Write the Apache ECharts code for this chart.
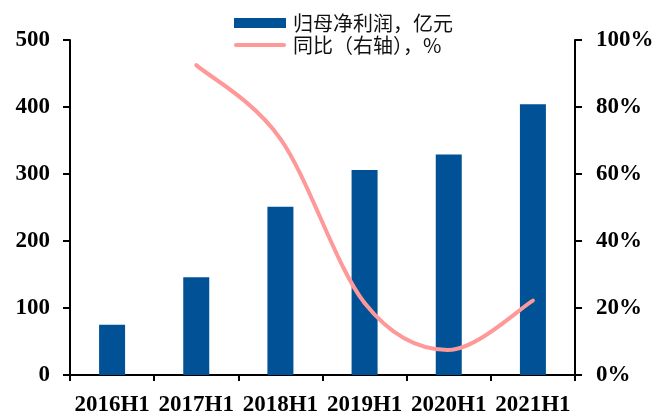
<!DOCTYPE html>
<html>
<head>
<meta charset="utf-8">
<script src="https://cdn.jsdelivr.net/npm/echarts@6/dist/echarts.min.js"></script>
<style>
  html, body { margin: 0; padding: 0; background: #fff; }
  #chart { width: 657px; height: 414px; }
</style>
</head>
<body>
<div id="chart"></div>
<script>
// Half-year periods
const categories = ['2016H1', '2017H1', '2018H1', '2019H1', '2020H1', '2021H1'];
// Net profit attributable to parent, 100 million yuan
const netProfit = [75, 146, 251, 306, 329, 404];
// Year-on-year growth, % (right axis); no value for the first period
const yoyGrowth = [null, 92.5, 70.5, 21.5, 7.5, 22.2];

const profitName = '归母净利润，亿元';
const growthName = '同比（右轴），%';
const barColor = '#005195';
const lineColor = '#FF9999';

const numFont = {
  fontFamily: '"Liberation Serif", "Times New Roman", serif',
  fontWeight: 'bold',
  fontSize: 23,
  color: '#000'
};

// Smooth growth curve: cubic Bezier segments with Catmull-Rom style tangents,
// positioned through the chart's own axes via api.coord.
function renderGrowthSegment(params, api) {
  const i = params.dataIndex;
  const v = yoyGrowth;
  if (v[i] == null || i + 1 >= v.length || v[i + 1] == null) return;
  const pt = (k) => api.coord([k, v[k]]);
  const p1 = pt(i);
  const p2 = pt(i + 1);
  const p0 = (i - 1 >= 0 && v[i - 1] != null) ? pt(i - 1) : p1;
  const p3 = (i + 2 < v.length && v[i + 2] != null) ? pt(i + 2) : p2;
  const t = 1 / 6;
  return {
    type: 'bezierCurve',
    shape: {
      x1: p1[0], y1: p1[1],
      x2: p2[0], y2: p2[1],
      cpx1: p1[0] + (p2[0] - p0[0]) * t,
      cpy1: p1[1] + (p2[1] - p0[1]) * t,
      cpx2: p2[0] - (p3[0] - p1[0]) * t,
      cpy2: p2[1] - (p3[1] - p1[1]) * t
    },
    style: { stroke: lineColor, lineWidth: 4, fill: null, lineCap: 'round', lineJoin: 'round' },
    silent: true
  };
}

const chart = echarts.init(document.getElementById('chart'), null, { renderer: 'canvas' });

chart.setOption({
  animation: false,
  backgroundColor: '#fff',
  grid: {
    left: 70, right: 82, top: 40, bottom: 39,
    containLabel: false,
    outerBoundsMode: 'none'
  },
  legend: {
    orient: 'vertical',
    left: 229,
    top: 8,
    itemWidth: 52,
    itemHeight: 10,
    itemGap: 2,
    textStyle: {
      fontFamily: '"Noto Sans CJK SC", sans-serif',
      fontSize: 20,
      color: '#111',
      padding: [0, 0, 0, 2]
    },
    data: [
      { name: profitName, icon: 'rect' },
      { name: growthName, icon: 'path://M2,0 L50,0 A2,2 0 0 1 50,4 L2,4 A2,2 0 0 1 2,0 Z' }
    ]
  },
  xAxis: {
    type: 'category',
    data: categories,
    boundaryGap: true,
    axisLine: { show: true, lineStyle: { color: '#000', width: 2 } },
    axisTick: { show: true, alignWithLabel: false, length: 6, lineStyle: { color: '#000', width: 2 } },
    axisLabel: Object.assign({ margin: 19, interval: 0 }, numFont),
    splitLine: { show: false }
  },
  yAxis: [
    {
      type: 'value',
      min: 0,
      max: 500,
      interval: 100,
      position: 'left',
      axisLine: { show: true, lineStyle: { color: '#000', width: 2 } },
      axisTick: { show: true, length: 7, lineStyle: { color: '#000', width: 2 } },
      axisLabel: Object.assign({ margin: 20 }, numFont),
      splitLine: { show: false }
    },
    {
      type: 'value',
      min: 0,
      max: 100,
      interval: 20,
      position: 'right',
      axisLine: { show: true, lineStyle: { color: '#000', width: 2 } },
      axisTick: { show: true, length: 7, lineStyle: { color: '#000', width: 2 } },
      axisLabel: Object.assign({ margin: 21, formatter: '{value}%' }, numFont),
      splitLine: { show: false }
    }
  ],
  series: [
    {
      name: profitName,
      type: 'bar',
      data: netProfit,
      barWidth: 26,
      itemStyle: { color: barColor },
      yAxisIndex: 0
    },
    {
      name: growthName,
      type: 'custom',
      xAxisIndex: 0,
      yAxisIndex: 1,
      data: yoyGrowth.map((v, i) => [i, v == null ? '-' : v]),
      encode: { x: 0, y: 1 },
      itemStyle: { color: lineColor },
      renderItem: renderGrowthSegment,
      z: 3
    }
  ]
});
</script>
</body>
</html>
